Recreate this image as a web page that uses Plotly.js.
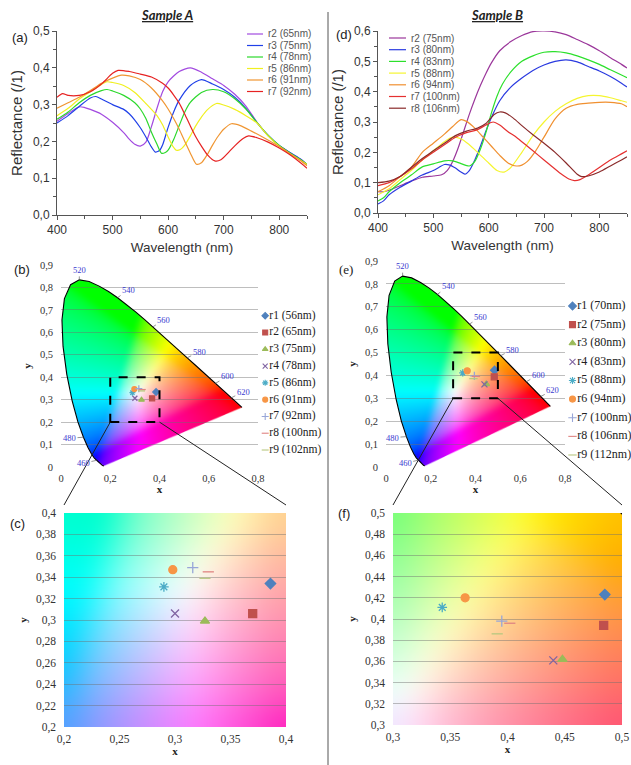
<!DOCTYPE html>
<html><head><meta charset="utf-8">
<script src="https://cdn.plot.ly/plotly-3.0.1.min.js"></script>
<style>html,body{margin:0;padding:0;background:#fff}#chart{width:631px;height:765px}</style>
</head><body><div id="chart"></div>
<script>
// ---------------- DATA ----------------
// Sample A reflectance spectra
const labelsSpecA = ['r2 (65nm)','r3 (75nm)','r4 (78nm)','r5 (86nm)','r6 (91nm)','r7 (92nm)'];
const colorsSpecA = ['#a24ae0','#2040e8','#2cd82c','#f0f020','#f09632','#e62222'];
const wlA2 = [400,420,440,450,460,480,500,520,530,540,550,560,570,580,590,600,620,640,660,680,700,720,740,760,780,800,820,840,850];
const refA2 = [0.255,0.276,0.294,0.292,0.287,0.274,0.252,0.224,0.206,0.192,0.187,0.198,0.24,0.29,0.335,0.362,0.39,0.4,0.388,0.37,0.352,0.328,0.296,0.252,0.216,0.188,0.169,0.15,0.137];
const wlA3 = [400,420,440,460,470,480,500,520,530,540,550,560,570,577,585,590,600,610,620,640,660,680,700,720,740,760,780,800,820,840,850];
const refA3 = [0.25,0.27,0.295,0.318,0.322,0.315,0.3,0.287,0.275,0.258,0.237,0.212,0.185,0.171,0.176,0.19,0.238,0.28,0.312,0.352,0.368,0.356,0.341,0.32,0.29,0.251,0.216,0.189,0.169,0.15,0.137];
const wlA4 = [400,420,440,460,480,490,500,520,540,550,560,570,580,588,595,600,610,620,630,640,660,680,700,720,740,760,780,800,820,840,850];
const refA4 = [0.26,0.28,0.305,0.325,0.338,0.341,0.337,0.325,0.305,0.288,0.262,0.225,0.192,0.168,0.17,0.176,0.205,0.243,0.28,0.306,0.333,0.341,0.335,0.316,0.288,0.251,0.216,0.189,0.168,0.149,0.138];
const wlA5 = [400,420,440,460,480,490,500,520,540,560,580,590,600,608,615,622,630,640,650,660,670,687,700,720,740,760,780,800,820,840,850];
const refA5 = [0.27,0.29,0.315,0.335,0.355,0.362,0.36,0.352,0.333,0.303,0.27,0.245,0.212,0.188,0.176,0.178,0.19,0.215,0.243,0.266,0.285,0.303,0.299,0.287,0.27,0.25,0.215,0.187,0.166,0.147,0.137];
const wlA6 = [400,420,440,460,480,500,516,530,550,570,590,600,610,620,630,640,651,660,670,680,690,700,714,730,750,770,800,820,840,850];
const refA6 = [0.29,0.305,0.32,0.338,0.358,0.372,0.38,0.378,0.368,0.345,0.31,0.288,0.262,0.233,0.2,0.168,0.138,0.142,0.163,0.19,0.214,0.233,0.248,0.243,0.228,0.212,0.186,0.166,0.146,0.134];
const wlA7 = [400,410,420,440,460,480,500,510,530,550,570,590,600,610,620,630,640,650,660,670,684,695,710,720,735,745,760,780,800,820,840,850];
const refA7 = [0.32,0.33,0.325,0.325,0.335,0.356,0.385,0.393,0.39,0.383,0.375,0.358,0.345,0.326,0.304,0.274,0.242,0.212,0.187,0.165,0.147,0.15,0.172,0.188,0.208,0.215,0.21,0.198,0.182,0.163,0.14,0.127];

// Sample B reflectance spectra
const labelsSpecB = ['r2 (75nm)','r3 (80nm)','r4 (83nm)','r5 (88nm)','r6 (94nm)','r7 (100nm)','r8 (106nm)'];
const colorsSpecB = ['#9b379b','#2a3ae0','#2ce02c','#f5f530','#f09030','#e53030','#8a2a2a'];
const wlB2 = [400,410,420,440,460,480,500,515,525,535,545,555,565,575,585,595,605,620,640,660,680,700,720,740,760,780,800,820,840,850];
const refB2 = [0.07,0.07,0.075,0.09,0.105,0.118,0.122,0.126,0.14,0.17,0.215,0.27,0.325,0.375,0.42,0.46,0.495,0.535,0.565,0.585,0.598,0.6,0.597,0.588,0.572,0.555,0.535,0.512,0.49,0.478];
const wlB3 = [400,410,420,440,460,480,500,510,520,530,540,550,557,565,575,585,595,605,620,640,660,680,700,720,740,760,780,800,820,840,850];
const refB3 = [0.03,0.04,0.06,0.085,0.105,0.125,0.14,0.15,0.16,0.158,0.148,0.135,0.128,0.14,0.175,0.22,0.27,0.315,0.37,0.415,0.445,0.47,0.488,0.5,0.505,0.498,0.483,0.468,0.45,0.428,0.415];
const wlB4 = [400,410,420,440,460,480,500,520,535,550,565,575,585,595,605,615,625,640,660,680,700,720,740,760,780,800,820,840,850];
const refB4 = [0.04,0.05,0.07,0.1,0.125,0.152,0.162,0.172,0.172,0.163,0.155,0.17,0.21,0.265,0.33,0.385,0.425,0.465,0.5,0.518,0.53,0.532,0.528,0.518,0.505,0.49,0.472,0.455,0.446];
const wlB5 = [400,420,440,460,480,500,520,535,550,565,580,600,615,628,640,660,680,700,720,740,760,780,800,820,840,850];
const refB5 = [0.06,0.08,0.11,0.14,0.175,0.205,0.235,0.25,0.245,0.225,0.2,0.165,0.14,0.135,0.15,0.2,0.255,0.3,0.335,0.36,0.378,0.387,0.387,0.38,0.37,0.365];
const wlB6 = [400,420,440,460,480,500,520,535,550,560,575,590,605,620,635,650,660,670,685,700,720,740,760,780,800,820,840,850];
const refB6 = [0.07,0.09,0.12,0.15,0.2,0.23,0.26,0.285,0.308,0.302,0.28,0.25,0.22,0.19,0.165,0.155,0.158,0.17,0.205,0.25,0.31,0.345,0.358,0.362,0.365,0.365,0.36,0.35];
const wlB7 = [400,420,440,460,480,500,520,540,560,580,595,608,620,635,650,670,690,710,730,745,755,765,780,800,820,840,850];
const refB7 = [0.09,0.1,0.12,0.145,0.175,0.2,0.225,0.25,0.265,0.275,0.29,0.3,0.29,0.268,0.25,0.22,0.19,0.16,0.13,0.112,0.107,0.11,0.125,0.15,0.175,0.195,0.205];
const wlB8 = [400,420,440,460,480,500,520,540,560,580,595,610,620,630,645,660,680,700,720,740,760,768,780,800,820,840,850];
const refB8 = [0.1,0.105,0.12,0.15,0.18,0.205,0.23,0.255,0.27,0.28,0.295,0.325,0.333,0.33,0.312,0.288,0.258,0.23,0.2,0.165,0.128,0.12,0.122,0.135,0.155,0.175,0.185];

// Chromaticity points
const labelsPtsA = ['r1 (56nm)','r2 (65nm)','r3 (75nm)','r4 (78nm)','r5 (86nm)','r6 (91nm)','r7 (92nm)','r8 (100nm)','r9 (102nm)'];
const ptsAx = [0.386,0.370,0.327,0.300,0.290,0.298,0.316,0.330,0.327];
const ptsAy = [0.334,0.306,0.299,0.306,0.331,0.347,0.349,0.345,0.339];
const labelsPtsB = ['r1 (70nm)','r2 (75nm)','r3 (80nm)','r4 (83nm)','r5 (88nm)','r6 (94nm)','r7 (100nm)','r8 (106nm)','r9 (112nm)'];
const ptsBx = [0.485,0.484,0.448,0.440,0.343,0.363,0.395,0.402,0.391];
const ptsBy = [0.423,0.394,0.362,0.361,0.411,0.420,0.398,0.396,0.386];
const ptSymbols = ['diamond','square','triangle-up','x-thin-open','asterisk-open','circle','cross-thin-open','line-ew-open','line-ew-open'];
const ptColors = ['#4f81bd','#c0504d','#9bbb59','#8064a2','#4bacc6','#f79646','#98a6d8','#e08482','#b8c880'];

// CIE 1931 spectral locus
const locusWl = [380,390,400,410,420,425,430,435,440,445,450,455,460,465,470,475,480,485,490,495,500,505,510,515,520,525,530,535,540,545,550,555,560,565,570,575,580,585,590,595,600,605,610,615,620,625,630,640,650,660,680,700];
const locusX = [0.1741,0.1738,0.1733,0.1726,0.1714,0.1703,0.1689,0.1669,0.1644,0.1611,0.1566,0.1510,0.1440,0.1355,0.1241,0.1096,0.0913,0.0687,0.0454,0.0235,0.0082,0.0039,0.0139,0.0389,0.0743,0.1142,0.1547,0.1929,0.2296,0.2658,0.3016,0.3373,0.3731,0.4087,0.4441,0.4788,0.5125,0.5448,0.5752,0.6029,0.6270,0.6482,0.6658,0.6801,0.6915,0.7006,0.7079,0.7190,0.7260,0.7300,0.7334,0.7347];
const locusY = [0.0050,0.0049,0.0048,0.0048,0.0051,0.0058,0.0069,0.0086,0.0109,0.0138,0.0177,0.0227,0.0297,0.0399,0.0578,0.0868,0.1327,0.2007,0.2950,0.4127,0.5384,0.6548,0.7502,0.8120,0.8338,0.8262,0.8059,0.7816,0.7543,0.7243,0.6923,0.6589,0.6245,0.5896,0.5547,0.5202,0.4866,0.4544,0.4242,0.3965,0.3725,0.3514,0.3340,0.3197,0.3083,0.2993,0.2920,0.2809,0.2740,0.2700,0.2666,0.2653];
const locusLabels = [460,480,520,540,560,580,600,620];

// Axis ranges
const rangeWl = [400,850];
const rangeReflA = [0,0.5], rangeReflB = [0,0.6];
const rangeCieX = [0,0.8], rangeCieY = [0,0.9];
const zoomA = [0.2,0.4], zoomB = [0.3,0.5];
const darkGridA = [0.24,0.30,0.34,0.36];
const darkGridB = [0.32,0.36,0.42,0.46,0.48];

// ---------------- LAYOUT HELPERS ----------------
const W = 631, H = 765;
const px = v => v / W, py = v => 1 - v / H;
const dX = (a,b) => [a/W, b/W];
const dY = (top,bottom) => [1-bottom/H, 1-top/H];
const SANS = 'Liberation Sans, Arial, sans-serif';
const SERIF = 'Liberation Serif, Times New Roman, serif';

const P = {
  a:{x:[57,307], y:[31,215]},
  d:{x:[378,627], y:[31,213]},
  b:{x:[61,258], y:[265,467]},
  e:{x:[386,565], y:[261,467]},
  c:{x:[64,286], y:[513,727]},
  f:{x:[393,622], y:[513,725]}
};
function toPaper(panel, xr, yr, x, y){
  const g = P[panel];
  const xp = g.x[0] + (x - xr[0])/(xr[1]-xr[0])*(g.x[1]-g.x[0]);
  const yp = g.y[1] - (y - yr[0])/(yr[1]-yr[0])*(g.y[1]-g.y[0]);
  return [px(xp), py(yp)];
}

// ---------------- CIE BACKGROUND IMAGE ----------------
function boxBlur(a, w, h, r){
  const t = new Float32Array(a.length);
  for (let j=0;j<h;j++){
    let s = 0;
    for (let k=-r;k<=r;k++) s += a[j*w + Math.min(w-1, Math.max(0,k))];
    for (let i=0;i<w;i++){
      t[j*w+i] = s/(2*r+1);
      s += a[j*w + Math.min(w-1, i+r+1)] - a[j*w + Math.max(0, i-r)];
    }
  }
  for (let i=0;i<w;i++){
    let s = 0;
    for (let k=-r;k<=r;k++) s += t[Math.min(h-1, Math.max(0,k))*w + i];
    for (let j=0;j<h;j++){
      a[j*w+i] = s/(2*r+1);
      s += t[Math.min(h-1, j+r+1)*w + i] - t[Math.max(0, j-r)*w + i];
    }
  }
}
function cieImage(xr, yr, w, h, blurR){
  const c = document.createElement('canvas'); c.width = w; c.height = h;
  const ctx = c.getContext('2d');
  const img = ctx.createImageData(w, h);
  const gam = v => v <= 0.0031308 ? 12.92*v : 1.055*Math.pow(v, 1/2.4) - 0.055;
  const R = new Float32Array(w*h), G = new Float32Array(w*h), B = new Float32Array(w*h);
  for (let j=0;j<h;j++){
    const y = yr[1] - (j+0.5)/h*(yr[1]-yr[0]);
    for (let i=0;i<w;i++){
      const x = xr[0] + (i+0.5)/w*(xr[1]-xr[0]);
      const yy = Math.max(y, 0.004);
      const X = x/yy, Y = 1, Z = Math.max(1-x-yy, 0)/yy;
      let r = 3.2406*X - 1.5372*Y - 0.4986*Z;
      let g = -0.9689*X + 1.8758*Y + 0.0415*Z;
      let b = 0.0557*X - 0.2040*Y + 1.0570*Z;
      r = Math.max(r,0); g = Math.max(g,0); b = Math.max(b,0);
      const m = Math.max(r,g,b,1e-6);
      const k = j*w+i;
      R[k] = gam(r/m); G[k] = gam(g/m); B[k] = gam(b/m);
    }
  }
  for (let p=0;p<2;p++){ boxBlur(R,w,h,blurR); boxBlur(G,w,h,blurR); boxBlur(B,w,h,blurR); }
  for (let k=0;k<w*h;k++){
    img.data[4*k] = Math.round(255*R[k]);
    img.data[4*k+1] = Math.round(255*G[k]);
    img.data[4*k+2] = Math.round(255*B[k]);
    img.data[4*k+3] = 255;
  }
  ctx.putImageData(img,0,0);
  ctx.globalCompositeOperation = 'destination-in';
  ctx.beginPath();
  locusX.forEach((lx,n)=>{
    const cx = (lx - xr[0])/(xr[1]-xr[0])*w;
    const cy = (yr[1] - locusY[n])/(yr[1]-yr[0])*h;
    if(n===0) ctx.moveTo(cx,cy); else ctx.lineTo(cx,cy);
  });
  ctx.closePath();
  ctx.fillStyle = '#000';
  ctx.fill();
  return c.toDataURL('image/png');
}
const imgFull = cieImage(rangeCieX, rangeCieY, 400, 450, 7);
const imgZA = cieImage(zoomA, zoomA, 300, 300, 22);
const imgZB = cieImage(zoomB, zoomB, 300, 300, 22);

// ---------------- TRACES ----------------
const traces = [];
const specA = [[wlA2,refA2],[wlA3,refA3],[wlA4,refA4],[wlA5,refA5],[wlA6,refA6],[wlA7,refA7]];
specA.forEach((s,i)=>traces.push({x:s[0], y:s[1], xaxis:'x', yaxis:'y', type:'scatter', mode:'lines',
  line:{color:colorsSpecA[i], width:1.2, shape:'spline', smoothing:0.7}, name:labelsSpecA[i], hoverinfo:'skip'}));
const specB = [[wlB2,refB2],[wlB3,refB3],[wlB4,refB4],[wlB5,refB5],[wlB6,refB6],[wlB7,refB7],[wlB8,refB8]];
specB.forEach((s,i)=>traces.push({x:s[0], y:s[1], xaxis:'x2', yaxis:'y2', type:'scatter', mode:'lines',
  line:{color:colorsSpecB[i], width:1.2, shape:'spline', smoothing:0.7}, name:labelsSpecB[i], hoverinfo:'skip'}));

[['x3','y3'],['x4','y4'],['x6','y6']].forEach(ax=>traces.push({x:locusX, y:locusY, xaxis:ax[0], yaxis:ax[1],
  type:'scatter', mode:'lines', line:{color:'#000', width:1.1}, hoverinfo:'skip'}));

function ptTrace(xs, ys, xa, ya, size){
  return {x:xs, y:ys, xaxis:xa, yaxis:ya, type:'scatter', mode:'markers', hoverinfo:'skip',
    marker:{symbol:ptSymbols, color:ptColors, size:size, line:{color:ptColors, width:1.3}}};
}
traces.push(ptTrace(ptsAx, ptsAy, 'x3','y3', 5));
traces.push(ptTrace(ptsBx, ptsBy, 'x4','y4', 6));
traces.push(ptTrace(ptsAx, ptsAy, 'x5','y5', 8));
traces.push(ptTrace(ptsBx, ptsBy, 'x6','y6', 8));

function legTrace(labels, xa, ya, size, fs){
  return {x:labels.map(()=>0.1), y:labels.map((_,i)=>i), xaxis:xa, yaxis:ya, type:'scatter',
    mode:'markers+text', text:labels, textposition:'middle right', cliponaxis:false, hoverinfo:'skip',
    textfont:{family:SERIF, size:fs, color:'#222'},
    marker:{symbol:ptSymbols, color:ptColors, size:size, line:{color:ptColors, width:1.1}}};
}
traces.push(legTrace(labelsPtsA, 'x7','y7', 5, 11.5));
traces.push(legTrace(labelsPtsB, 'x8','y8', 6, 12));

// ---------------- AXES ----------------
function specX(dom, anchor){
  return {domain:dom, anchor:anchor, range:rangeWl, dtick:100, tick0:400, showline:true, linecolor:'#555', linewidth:1,
    ticks:'outside', ticklen:4, tickcolor:'#555', minor:{dtick:50, ticks:'outside', ticklen:3, tickcolor:'#555'},
    showgrid:false, zeroline:false, tickfont:{family:SANS, size:12, color:'#333'},
    title:{text:'Wavelength (nm)', font:{family:SANS, size:13.5, color:'#333'}, standoff:6}};
}
function specY(dom, anchor, rng){
  return {domain:dom, anchor:anchor, range:rng, dtick:0.1, tickformat:'.1f', showline:true, linecolor:'#555', linewidth:1,
    ticks:'outside', ticklen:4, tickcolor:'#555', minor:{dtick:0.05, ticks:'outside', ticklen:3, tickcolor:'#555'},
    showgrid:false, zeroline:false, tickfont:{family:SANS, size:12, color:'#333'},
    title:{text:'Reflectance (/1)', font:{family:SANS, size:15, color:'#333'}, standoff:6}};
}
function cieAx(dom, anchor, rng, dt, grid, fs, isY){
  return {domain:dom, anchor:anchor, range:rng, dtick:dt, showline:false, ticks:'', zeroline:false,
    showgrid:grid, gridcolor:'rgba(110,110,110,0.45)', gridwidth:1, ticklabelstandoff:isY?7:3,
    tickfont:{family:SERIF, size:fs, color:'#333'},
    title:{text:isY?'<b>y</b>':'<b>x</b>', font:{family:SERIF, size:11, color:'#222'}, standoff:isY?6:2}};
}
const hidden = (dom, anchor, rng) => ({domain:dom, anchor:anchor, range:rng, visible:false, fixedrange:true});

const rowsA = 9;
const layout = {
  width:W, height:H, margin:{l:0,r:0,t:0,b:0}, paper_bgcolor:'#fff', plot_bgcolor:'rgba(0,0,0,0)',
  showlegend:false, separators:',.', font:{family:SANS, color:'#333'},
  xaxis: specX(dX(...P.a.x),'y'), yaxis: specY(dY(...P.a.y),'x', rangeReflA),
  xaxis2: specX(dX(...P.d.x),'y2'), yaxis2: specY(dY(...P.d.y),'x2', rangeReflB),
  xaxis3: cieAx(dX(...P.b.x),'y3', rangeCieX, 0.2, false, 10.5, false),
  yaxis3: cieAx(dY(...P.b.y),'x3', rangeCieY, 0.1, true, 10.5, true),
  xaxis4: cieAx(dX(...P.e.x),'y4', rangeCieX, 0.2, false, 10.5, false),
  yaxis4: cieAx(dY(...P.e.y),'x4', rangeCieY, 0.1, true, 10.5, true),
  xaxis5: cieAx(dX(...P.c.x),'y5', zoomA, 0.05, false, 11.5, false),
  yaxis5: cieAx(dY(...P.c.y),'x5', zoomA, 0.02, true, 11.5, true),
  xaxis6: cieAx(dX(...P.f.x),'y6', zoomB, 0.05, false, 11.5, false),
  yaxis6: cieAx(dY(...P.f.y),'x6', zoomB, 0.02, true, 11.5, true),
  xaxis7: hidden(dX(258,330),'y7',[0,1]),
  yaxis7: hidden(dY(307.3,458.4),'x7',[rowsA-0.5,-0.5]),
  xaxis8: hidden(dX(566,631),'y8',[0,1]),
  yaxis8: hidden(dY(296.7,464.3),'x8',[rowsA-0.5,-0.5]),
  images: [
    {source:imgFull, xref:'x3', yref:'y3', x:rangeCieX[0], y:rangeCieY[1], sizex:rangeCieX[1]-rangeCieX[0], sizey:rangeCieY[1]-rangeCieY[0], sizing:'stretch', xanchor:'left', yanchor:'top', layer:'below'},
    {source:imgFull, xref:'x4', yref:'y4', x:rangeCieX[0], y:rangeCieY[1], sizex:rangeCieX[1]-rangeCieX[0], sizey:rangeCieY[1]-rangeCieY[0], sizing:'stretch', xanchor:'left', yanchor:'top', layer:'below'},
    {source:imgZA, xref:'x5', yref:'y5', x:zoomA[0], y:zoomA[1], sizex:zoomA[1]-zoomA[0], sizey:zoomA[1]-zoomA[0], sizing:'stretch', xanchor:'left', yanchor:'top', layer:'below'},
    {source:imgZB, xref:'x6', yref:'y6', x:zoomB[0], y:zoomB[1], sizex:zoomB[1]-zoomB[0], sizey:zoomB[1]-zoomB[0], sizing:'stretch', xanchor:'left', yanchor:'top', layer:'below'}
  ],
  shapes: [], annotations: []
};

function zoomBox(xa, ya, panelBig, panelZoom, z){
  layout.shapes.push({type:'rect', xref:xa, yref:ya, x0:z[0], x1:z[1], y0:z[0], y1:z[1],
    line:{color:'#000', width:2, dash:'dash'}, layer:'above'});
  const bl = toPaper(panelBig, rangeCieX, rangeCieY, z[0], z[0]);
  const br = toPaper(panelBig, rangeCieX, rangeCieY, z[1], z[0]);
  const tl = toPaper(panelZoom, z, z, z[0], z[1]);
  const tr = toPaper(panelZoom, z, z, z[1], z[1]);
  layout.shapes.push({type:'line', xref:'paper', yref:'paper', x0:bl[0], y0:bl[1], x1:tl[0], y1:tl[1]+8/H, line:{color:'#222', width:1}});
  layout.shapes.push({type:'line', xref:'paper', yref:'paper', x0:br[0], y0:br[1], x1:tr[0], y1:tr[1]+8/H, line:{color:'#222', width:1}});
}
zoomBox('x3','y3','b','c', zoomA);
zoomBox('x4','y4','e','f', zoomB);

darkGridA.forEach(v=>layout.shapes.push({type:'line', xref:'x5 domain', yref:'y5', x0:0, x1:1, y0:v, y1:v, line:{color:'rgba(70,70,70,0.55)', width:1}, layer:'below'}));
darkGridB.forEach(v=>layout.shapes.push({type:'line', xref:'x6 domain', yref:'y6', x0:0, x1:1, y0:v, y1:v, line:{color:'rgba(70,70,70,0.55)', width:1}, layer:'below'}));

layout.shapes.push({type:'line', xref:'paper', yref:'paper', x0:px(328), x1:px(328), y0:py(12), y1:0, line:{color:'#555', width:1}});

function lineLegend(labels, colors, x0, x1, yTop, step){
  labels.forEach((lab,i)=>{
    const y = yTop + i*step;
    layout.shapes.push({type:'line', xref:'paper', yref:'paper', x0:px(x0), x1:px(x1), y0:py(y), y1:py(y), line:{color:colors[i], width:1.2}});
    layout.annotations.push({xref:'paper', yref:'paper', x:px(x1+3), y:py(y), xanchor:'left', yanchor:'middle', showarrow:false,
      text:lab, font:{family:SANS, size:10, color:'#555'}});
  });
}
lineLegend(labelsSpecA, colorsSpecA, 247, 263, 34, 11.5);
lineLegend(labelsSpecB, colorsSpecB, 389, 406, 38, 11.7);

const locOff = {460:[-13,3], 480:[-14,1], 520:[0,-10], 540:[11,-8], 560:[11,-7], 580:[12,-6], 600:[12,-7], 620:[12,-6]};
[['x3','y3'],['x4','y4']].forEach(ax=>{
  locusLabels.forEach(wl=>{
    const n = locusWl.indexOf(wl);
    layout.annotations.push({x:locusX[n], y:locusY[n], xref:ax[0], yref:ax[1], text:String(wl), showarrow:true,
      arrowhead:0, arrowwidth:0.7, arrowcolor:'#666', ax:locOff[wl][0], ay:locOff[wl][1], standoff:0,
      font:{family:SERIF, size:8.5, color:'#3a3ad0'}});
  });
});

[['<u><b><i>Sample A</i></b></u>',167],['<u><b><i>Sample B</i></b></u>',497]].forEach(t=>layout.annotations.push({
  xref:'paper', yref:'paper', x:px(t[1]), y:py(15), text:t[0], showarrow:false, xanchor:'center', yanchor:'middle',
  font:{family:'Lato, Open Sans, sans-serif', size:13, color:'#222'}}));
[['(a)',20,37],['(d)',344,35],['(b)',22,269],['(e)',346,269],['(c)',17,523],['(f)',344,513]].forEach(t=>layout.annotations.push({
  xref:'paper', yref:'paper', x:px(t[1]), y:py(t[2]), text:t[0], showarrow:false, xanchor:'center', yanchor:'middle',
  font:{family:(t[0]==='(e)'?SERIF:SANS), size:13, color:'#222'}}));

Plotly.newPlot('chart', traces, layout, {staticPlot:true, displayModeBar:false});
</script></body></html>
